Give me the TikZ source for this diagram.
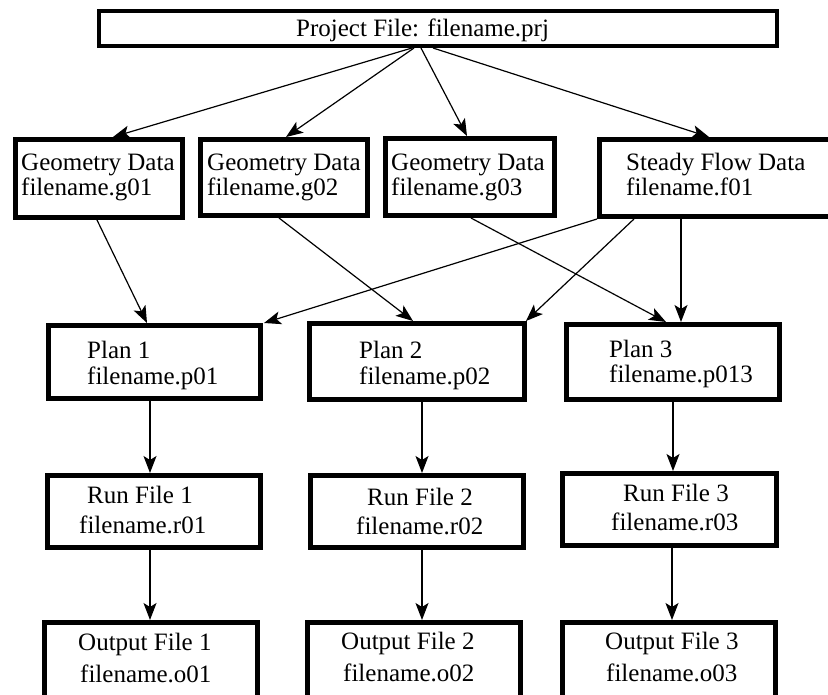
\documentclass[tikz,border=0pt]{standalone}
\usepackage{fontspec}
\setmainfont{Liberation Serif}
\usetikzlibrary{arrows.meta}
\begin{document}
\begin{tikzpicture}[x=1pt,y=-1pt,
  box/.style={draw, line width=5pt, inner sep=0pt, anchor=north west},
  lbl/.style={anchor=base west, inner sep=0pt, font=\fontsize{25}{25}\selectfont},
  conn/.style={line width=1.2pt, -{Stealth[length=17pt,width=13pt,inset=4pt]}}]
\useasboundingbox (0,0) rectangle (828,695);
\fill[white] (0,0) rectangle (828,695);
% boxes
\node[box, line width=4pt, minimum width=678pt, minimum height=35pt] (prj) at (97,9) {};
\node[box, minimum width=167pt, minimum height=78pt] (g01) at (13,137) {};
\node[box, minimum width=167pt, minimum height=76pt] (g02) at (198,137) {};
\node[box, minimum width=169pt, minimum height=77pt] (g03) at (383,136) {};
\node[box, minimum width=238pt, minimum height=77pt] (f01) at (597,137) {};
\node[box, minimum width=212pt, minimum height=73pt] (p1) at (46,323) {};
\node[box, minimum width=215pt, minimum height=76pt] (p2) at (307,321) {};
\node[box, minimum width=213pt, minimum height=75pt] (p3) at (564,322) {};
\node[box, minimum width=213pt, minimum height=72pt] (r1) at (45,473) {};
\node[box, minimum width=213pt, minimum height=72pt] (r2) at (308,473) {};
\node[box, minimum width=214pt, minimum height=72pt] (r3) at (560,471) {};
\node[box, minimum width=213pt, minimum height=87pt] (o1) at (42,620) {};
\node[box, minimum width=213pt, minimum height=87pt] (o2) at (305,620) {};
\node[box, minimum width=213pt, minimum height=87pt] (o3) at (560,620) {};
% texts
\node[lbl] (tprj) at (296,37) {Project File: filename.prj};
\node[lbl] (tg1a) at (21,171) {Geometry Data};
\node[lbl] (tg1b) at (21,196) {filename.g01};
\node[lbl] (tg2a) at (207,171) {Geometry Data};
\node[lbl] (tg2b) at (207,196) {filename.g02};
\node[lbl] (tg3a) at (391,171) {Geometry Data};
\node[lbl] (tg3b) at (391,196) {filename.g03};
\node[lbl] (tf1a) at (626,171) {Steady Flow Data};
\node[lbl] (tf1b) at (626,196) {filename.f01};
\node[lbl] (tp1a) at (87,358) {Plan 1};
\node[lbl] (tp1b) at (87,384) {filename.p01};
\node[lbl] (tp2a) at (359,358) {Plan 2};
\node[lbl] (tp2b) at (359,384) {filename.p02};
\node[lbl] (tp3a) at (609,357) {Plan 3};
\node[lbl] (tp3b) at (609,382) {filename.p013};
\node[lbl] (tr1a) at (87,503) {Run File 1};
\node[lbl] (tr1b) at (79,533) {filename.r01};
\node[lbl] (tr2a) at (367,505) {Run File 2};
\node[lbl] (tr2b) at (356,534) {filename.r02};
\node[lbl] (tr3a) at (623,501) {Run File 3};
\node[lbl] (tr3b) at (611,530) {filename.r03};
\node[lbl] (to1a) at (78,650) {Output File 1};
\node[lbl] (to1b) at (80,682) {filename.o01};
\node[lbl] (to2a) at (341,649) {Output File 2};
\node[lbl] (to2b) at (343,681) {filename.o02};
\node[lbl] (to3a) at (605,649) {Output File 3};
\node[lbl] (to3b) at (606,681) {filename.o03};
% connectors
\draw[conn] (prj.south -| 412,0) -- (g01.north -| 113,0);
\draw[conn] (prj.south -| 414,0) -- (g02.north -| 286,0);
\draw[conn] (prj.south -| 421,0) -- (g03.north -| 467,0);
\draw[conn] (prj.south -| 433,0) -- (f01.north -| 709,0);
\draw[conn] (g01.south -| 97,0) -- (p1.north -| 147,0);
\draw[conn] (g02.south -| 279,0) -- (p2.north -| 413,0);
\draw[conn] (g03.south -| 471,0) -- (p3.north -| 666,0);
\draw[conn] (f01.south -| 597,0) -- (p1.north -| 264,0);
\draw[conn] (f01.south -| 634,0) -- (p2.north -| 526,0);
\draw[conn] (f01.south -| 681,0) -- (p3.north -| 681,0);
\draw[conn] (p1.south -| 150,0) -- (r1.north -| 150,0);
\draw[conn] (p2.south -| 422,0) -- (r2.north -| 422,0);
\draw[conn] (p3.south -| 673,0) -- (r3.north -| 673,0);
\draw[conn] (r1.south -| 150,0) -- (o1.north -| 150,0);
\draw[conn] (r2.south -| 422,0) -- (o2.north -| 422,0);
\draw[conn] (r3.south -| 672,0) -- (o3.north -| 672,0);
\end{tikzpicture}
\end{document}
